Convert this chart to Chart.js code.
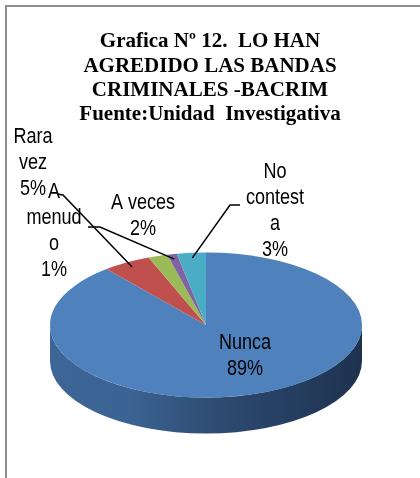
<!DOCTYPE html>
<html>
<head>
<meta charset="utf-8">
<script src="https://cdn.jsdelivr.net/npm/chart.js@4/dist/chart.umd.min.js"></script>
<style>
html, body { margin: 0; padding: 0; background: #fff; }
</style>
</head>
<body>
<canvas id="chartPie" width="420" height="478"></canvas>
<script>
/* datos de la grafica */
const categories = ['Nunca', 'Rara vez', 'A veces', 'A menudo', 'No contesta'];
const percents = [89, 5, 2, 1, 3];
const titleLines = ['Grafica Nº 12.  LO HAN', 'AGREDIDO LAS BANDAS', 'CRIMINALES -BACRIM', 'Fuente:Unidad  Investigativa'];

/* estilos y posiciones */
const colors = ['#4F81BD', '#C0504D', '#9BBB59', '#8064A2', '#4BACC6'];
const pieCenter = { x: 206, y: 325 };
const squash = 0.465;
const depth = 36;
const narrow = 0.82; // letra angosta tipo Arial Narrow
const labelFont = "22px 'Liberation Sans', Arial, sans-serif";
const labelLayout = [
    { x: 245, y: 343, maxW: 100 },
    { x: 33, y: 137, maxW: 60, line: [[57, 194], [63, 195]] },
    { x: 143, y: 203, maxW: 80 },
    { x: 54, y: 192, maxW: 60, line: [[88, 227], [100, 227]] },
    { x: 275, y: 172, maxW: 60, line: [[240, 205], [230, 205]] }
];

function textW(ctx, t) {
    return ctx.measureText(t).width * narrow;
}

function wrapText(ctx, text, maxW) {
    const out = [];
    let line = '';
    text.split(' ').forEach(word => {
        const test = line ? line + ' ' + word : word;
        if (textW(ctx, test) <= maxW) { line = test; return; }
        if (line) out.push(line);
        line = '';
        for (const ch of word) {
            if (line && textW(ctx, line + ch) > maxW) { out.push(line); line = ch; }
            else line += ch;
        }
    });
    if (line) out.push(line);
    return out;
}

function project(angle, r) {
    return [pieCenter.x + r * Math.cos(angle), pieCenter.y + r * squash * Math.sin(angle)];
}

const pie3d = {
    id: 'pie3d',
    beforeDraw(chart) {
        const ctx = chart.ctx;
        ctx.save();
        ctx.strokeStyle = '#8f8f8f';
        ctx.lineWidth = 2;
        ctx.beginPath();
        ctx.moveTo(6, 478);
        ctx.lineTo(6, 6);
        ctx.lineTo(420, 6);
        ctx.stroke();
        ctx.restore();
    },
    beforeDatasetsDraw(chart) {
        const ctx = chart.ctx;
        const arcs = chart.getDatasetMeta(0).data;
        const R = arcs[0].outerRadius;
        const ry = R * squash;
        // pared lateral
        const g = ctx.createLinearGradient(pieCenter.x - R, 0, pieCenter.x + R, 0);
        g.addColorStop(0, '#3D6697');
        g.addColorStop(0.25, '#3B6393');
        g.addColorStop(0.55, '#2D4A70');
        g.addColorStop(1, '#1E3250');
        ctx.save();
        arcs.forEach(arc => {
            const s = Math.max(arc.startAngle, 0);
            const e = Math.min(arc.endAngle, Math.PI);
            if (e <= s) return;
            ctx.beginPath();
            ctx.ellipse(pieCenter.x, pieCenter.y, R, ry, 0, s, e);
            ctx.ellipse(pieCenter.x, pieCenter.y + depth, R, ry, 0, e, s, true);
            ctx.closePath();
            ctx.fillStyle = g;
            ctx.fill();
        });
        ctx.restore();
        // cara superior aplastada
        ctx.save();
        ctx.translate(pieCenter.x, pieCenter.y);
        ctx.scale(1, squash);
        ctx.translate(-arcs[0].x, -arcs[0].y);
    },
    afterDatasetsDraw(chart) {
        const ctx = chart.ctx;
        ctx.restore();
        const arcs = chart.getDatasetMeta(0).data;
        const R = arcs[0].outerRadius;
        ctx.save();
        ctx.font = labelFont;
        ctx.fillStyle = '#000';
        ctx.textAlign = 'center';
        ctx.textBaseline = 'middle';
        categories.forEach((cat, i) => {
            const lay = labelLayout[i];
            const lines = wrapText(ctx, cat, lay.maxW).concat([percents[i] + '%']);
            lines.forEach((t, j) => {
                ctx.save();
                ctx.translate(lay.x, lay.y + j * 26);
                ctx.scale(narrow, 1);
                ctx.fillText(t, 0, 0);
                ctx.restore();
            });
            if (lay.line) {
                const arc = arcs[i];
                const mid = (arc.startAngle + arc.endAngle) / 2;
                const end = project(mid, R * 0.93);
                ctx.beginPath();
                ctx.strokeStyle = '#000';
                ctx.lineWidth = 1.5;
                ctx.moveTo(lay.line[0][0], lay.line[0][1]);
                ctx.lineTo(lay.line[1][0], lay.line[1][1]);
                ctx.lineTo(end[0], end[1]);
                ctx.stroke();
            }
        });
        ctx.restore();
    }
};

new Chart(document.getElementById('chartPie'), {
    type: 'pie',
    data: {
        labels: categories,
        datasets: [{
            data: percents,
            backgroundColor: colors,
            borderWidth: 0
        }]
    },
    options: {
        responsive: false,
        animation: false,
        layout: { padding: { left: 54, right: 54, top: 0, bottom: 0 } },
        plugins: {
            legend: { display: false },
            tooltip: { enabled: false },
            title: {
                display: true,
                text: titleLines,
                color: '#000',
                padding: { top: 30, bottom: 10 },
                font: {
                    size: 21,
                    weight: 'bold',
                    family: "'Liberation Serif', 'Times New Roman', serif",
                    lineHeight: 1.15
                }
            }
        }
    },
    plugins: [pie3d]
});
</script>
</body>
</html>
